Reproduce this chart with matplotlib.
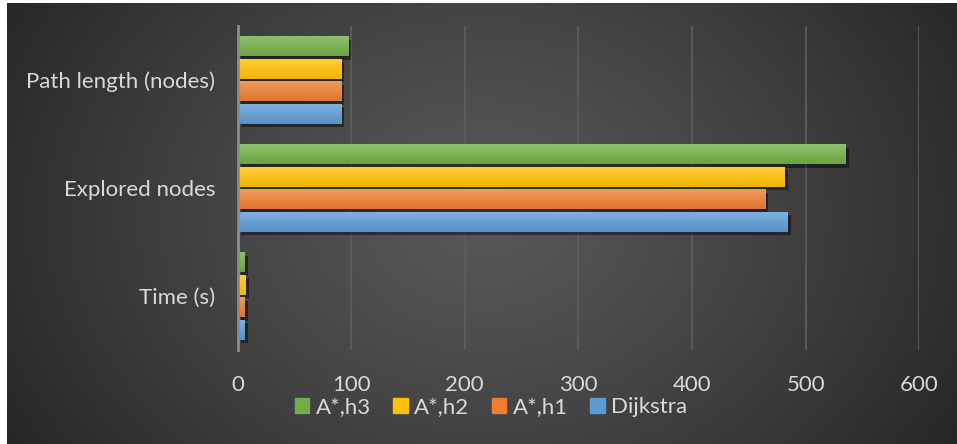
import numpy as np
import matplotlib
matplotlib.use("Agg")
import matplotlib.pyplot as plt
from matplotlib import patheffects as pe
from matplotlib.colors import to_rgb
from matplotlib.patches import Rectangle

# Benchmark results for the path-finding algorithms
categories = ["Time (s)", "Explored nodes", "Path length (nodes)"]
series_names = ["Dijkstra", "A*,h1", "A*,h2", "A*,h3"]
dijkstra = [6, 484, 91]
astar_h1 = [6, 464, 91]
astar_h2 = [7, 481, 91]
astar_h3 = [6, 535, 97]
x_ticks = [0, 100, 200, 300, 400, 500, 600]

series_values = [dijkstra, astar_h1, astar_h2, astar_h3]
series_colors = ["#5B9BD5", "#ED7D31", "#FFC000", "#70AD47"]

plt.rcParams["font.family"] = ["Lato", "DejaVu Sans"]
text_color = "#d9d9d9"

W, H = 957, 444
fig = plt.figure(figsize=(W / 100, H / 100), dpi=100)
fig.patch.set_facecolor("white")

# Dark radial-gradient backdrop
bg = fig.add_axes([7 / W, 0, (W - 7) / W, (H - 3) / H])
bg.set_axis_off()
ny, nx = 220, 480
yy, xx = np.mgrid[0:ny, 0:nx]
cx, cy = nx * 0.50, ny * 0.48
r = np.sqrt(((xx - cx) / (nx * 0.62)) ** 2 + ((yy - cy) / (ny * 1.05)) ** 2)
r = np.clip(r, 0, 1) ** 1.2
c_in = np.array(to_rgb("#585858"))
c_out = np.array(to_rgb("#232323"))
img = c_in[None, None, :] * (1 - r[..., None]) + c_out[None, None, :] * r[..., None]
bg.imshow(img, aspect="auto", extent=[0, 1, 0, 1], interpolation="bilinear")
bg.set_xlim(0, 1)
bg.set_ylim(0, 1)

ax = fig.add_axes([237.5 / W, 1 - 350 / H, 681.8 / W, 324 / H])
ax.set_facecolor("none")

bar_h = 0.185
step = 0.209
y_base = np.arange(len(categories))


def lighten(c, f):
    c = np.array(to_rgb(c))
    return c + (1 - c) * f


def darken(c, f):
    return np.array(to_rgb(c)) * (1 - f)


shadow = [pe.SimplePatchShadow(offset=(2.5, -2.5), shadow_rgbFace="black", alpha=0.45), pe.Normal()]

handles = []
for i, (vals, col, name) in enumerate(zip(series_values, series_colors, series_names)):
    offs = (i - 1.5) * step
    bars = ax.barh(y_base + offs, vals, height=bar_h, color=col, zorder=3, label=name)
    top_c = lighten(col, 0.22)
    bot_c = darken(col, 0.06)
    grad = np.linspace(0, 1, 64)[:, None]
    gimg = top_c[None, None, :] * (1 - grad[..., None]) + bot_c[None, None, :] * grad[..., None]
    for b in bars:
        b.set_path_effects(shadow)
        x0, y0 = b.get_x(), b.get_y()
        w, h = b.get_width(), b.get_height()
        im = ax.imshow(gimg, extent=[x0, x0 + w, y0, y0 + h], aspect="auto",
                       zorder=4, interpolation="bilinear")
        im.set_clip_path(b)
    handles.append(Rectangle((0, 0), 1, 1, color=col))

ax.set_xlim(0, 600)
ax.set_ylim(-0.5, 2.5)

ax.set_xticks(x_ticks)
ax.set_xticklabels([str(t) for t in x_ticks])
ax.set_yticks(y_base)
ax.set_yticklabels(categories)
ax.tick_params(axis="both", length=0, labelcolor=text_color, labelsize=16)
ax.tick_params(axis="x", pad=18)
ax.tick_params(axis="y", pad=16)

ax.grid(axis="x", color="#5e5e5e", linewidth=1.2, zorder=1)
ax.set_axisbelow(True)
for s in ["top", "right", "bottom"]:
    ax.spines[s].set_visible(False)
ax.spines["left"].set_color("#8c8c8c")
ax.spines["left"].set_linewidth(2)
ax.spines["left"].set_zorder(5)

leg = fig.legend(handles[::-1], series_names[::-1], loc="center",
                 bbox_to_anchor=(491 / W, 1 - 407 / H), ncol=4, frameon=False,
                 fontsize=16, handlelength=0.65, handleheight=0.65,
                 handletextpad=0.3, columnspacing=1.0, borderaxespad=0)
for t in leg.get_texts():
    t.set_color(text_color)

fig.savefig("out.png", dpi=100)
